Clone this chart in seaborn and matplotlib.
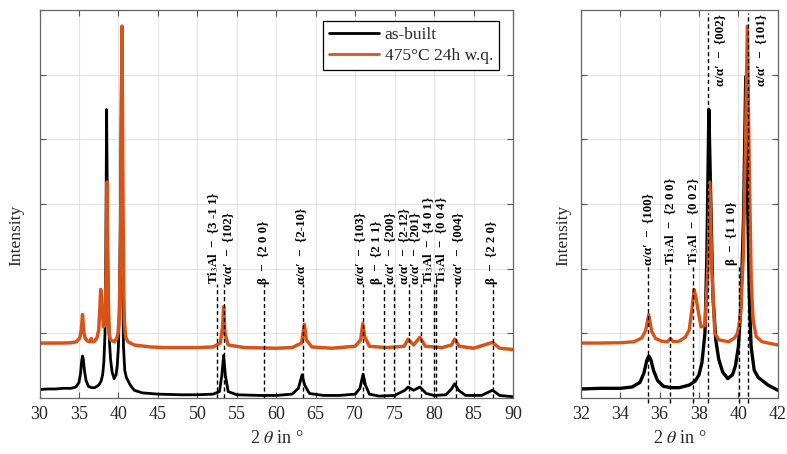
import matplotlib
matplotlib.use("Agg")
import matplotlib.pyplot as plt
import pandas as pd
import seaborn as sns

# ---------------- data ----------------
series_names = ["as-built", "475°C 24h w.q."]
series_colors = ["#000000", "#D95319"]

black_x = [30, 31, 32, 33, 34, 34.6, 35.0, 35.2, 35.35, 35.45, 35.55, 35.7, 35.9, 36.2, 36.6,
           37.0, 37.5, 37.8, 38.0, 38.15, 38.3, 38.4, 38.5, 38.6, 38.7, 38.85, 39.0, 39.2,
           39.46, 39.7, 39.85, 40.0, 40.12, 40.26, 40.37, 40.46, 40.55, 40.64, 40.8, 41.0, 41.5, 42.0,
           43, 45, 48, 50, 52, 52.8, 53.1, 53.33, 53.55, 53.9, 55, 58, 60, 62, 62.8, 63.27,
           63.6, 64.2, 66, 68, 70, 70.6, 71.0, 71.3, 71.8, 73, 75, 76.3, 76.7, 77.4, 78.2, 79,
           80, 81.5, 82.2, 82.6, 83.1, 84, 86, 87.4, 88.3, 90]
black_y = [0.13, 0.14, 0.14, 0.15, 0.15, 0.17, 0.24, 0.38, 0.58, 0.65, 0.60, 0.42, 0.27, 0.18, 0.16,
           0.16, 0.20, 0.26, 0.36, 0.55, 1.00, 2.20, 4.46, 3.00, 1.60, 0.90, 0.60, 0.40,
           0.30, 0.36, 0.50, 0.80, 1.40, 2.80, 4.97, 3.20, 1.60, 0.80, 0.43, 0.32, 0.20, 0.12,
           0.08, 0.06, 0.05, 0.05, 0.06, 0.10, 0.35, 0.66, 0.35, 0.10, 0.05, 0.04, 0.04, 0.06, 0.15, 0.36,
           0.20, 0.07, 0.04, 0.04, 0.06, 0.15, 0.37, 0.20, 0.06, 0.03, 0.04, 0.12, 0.17, 0.12, 0.17, 0.07,
           0.04, 0.05, 0.14, 0.22, 0.12, 0.04, 0.04, 0.12, 0.04, 0.02]

orange_x = [30, 31, 32, 33, 34, 34.7, 35.1, 35.3, 35.45, 35.6, 35.8, 36.1, 36.4, 36.55, 36.7,
            37.0, 37.3, 37.5, 37.65, 37.75, 37.85, 37.95, 38.1, 38.3, 38.45, 38.55, 38.65, 38.8,
            39.0, 39.5, 39.8, 39.95, 40.1, 40.25, 40.35, 40.45, 40.55, 40.65, 40.75, 40.9, 41.2,
            42, 44, 46, 50, 52, 52.9, 53.2, 53.33, 53.5, 53.9, 56, 60, 62, 63.2, 63.56, 63.8,
            64.5, 67, 70, 70.7, 70.96, 71.2, 71.8, 74, 76.2, 76.7, 77.4, 78.2, 78.9, 81, 82.2,
            82.6, 83.2, 85, 87.4, 88.3, 90]
orange_y = [0.85, 0.85, 0.85, 0.85, 0.855, 0.87, 0.93, 1.05, 1.29, 1.03, 0.92, 0.88, 0.87, 0.92, 0.87,
            0.88, 0.94, 1.05, 1.40, 1.68, 1.55, 1.36, 1.10, 1.12, 2.00, 3.34, 2.00, 1.00,
            0.90, 0.87, 0.93, 1.00, 1.26, 2.20, 3.80, 5.75, 3.60, 1.80, 1.20, 0.95, 0.87,
            0.82, 0.79, 0.78, 0.78, 0.79, 0.85, 1.10, 1.41, 1.00, 0.82, 0.78, 0.77, 0.78, 0.85, 1.14, 0.90,
            0.79, 0.77, 0.80, 0.90, 1.15, 0.95, 0.80, 0.78, 0.80, 0.91, 0.82, 0.94, 0.80, 0.78, 0.82,
            0.91, 0.80, 0.77, 0.86, 0.77, 0.75]

# reflections, overview plot
left_line_x = [52.49, 53.33, 58.49, 63.35, 70.96, 73.59, 74.9, 76.76, 78.29, 79.94, 80.28, 82.77, 87.42]
left_text_x = [52.06, 53.92, 58.49, 63.10, 70.67, 72.79, 74.48, 76.15, 77.6, 79.25, 80.95, 83.02, 87.39]
left_labels = ["Ti$_3$Al  −  {3 -1 1}", "α/α′  −  {102}", "β  −  {2 0 0}", "α/α′  −  {2-10}",
               "α/α′  −  {103}", "β  −  {2 1 1}", "α/α′  −  {200}", "α/α′  −  {2-12}", "α/α′  −  {201}",
               "Ti$_3$Al  −  {4 0 1}", "Ti$_3$Al  −  {0 0 4}", "α/α′  −  {004}", "β  −  {2 2 0}"]

# reflections, detail plot
right_low_line_x = [35.42, 36.53, 37.71, 40.02]
right_low_text_x = [35.42, 36.55, 37.73, 39.66]
right_low_labels = ["α/α′  −  {100}", "Ti$_3$Al  −  {2 0 0}", "Ti$_3$Al  −  {0 0 2}", "β  −  {1 1 0}"]
right_top_line_x = [38.46, 40.50]
right_top_text_x = [39.08, 41.17]
right_top_labels = ["α/α′  −  {002}", "α/α′  −  {101}"]

left_xticks = [30, 35, 40, 45, 50, 55, 60, 65, 70, 75, 80, 85, 90]
right_xticks = [32, 34, 36, 38, 40, 42]

# ---------------- figure ----------------
sns.set_theme(style="white")
plt.rcParams["font.family"] = ["Liberation Serif", "DejaVu Serif"]
plt.rcParams["mathtext.fontset"] = "stix"

df = pd.concat([
    pd.DataFrame({"two_theta": black_x, "intensity": black_y, "sample": series_names[0]}),
    pd.DataFrame({"two_theta": orange_x, "intensity": orange_y, "sample": series_names[1]}),
], ignore_index=True)
palette = dict(zip(series_names, series_colors))

fig = plt.figure(figsize=(7.87, 4.54), dpi=100)
axL = fig.add_axes([0.0502, 0.1233, 0.6017, 0.8546])
axR = fig.add_axes([0.7379, 0.1233, 0.2505, 0.8546])

label_kw = dict(rotation=90, fontsize=9.3, fontweight="bold", color="black")
dash = (0, (3, 2))

for ax, lw, lw_or, xlim, xticks, ylab_x in [(axL, 2.0, 2.5, (30, 90), left_xticks, -0.031),
                                            (axR, 2.4, 2.4, (32, 42), right_xticks, -0.049)]:
    sns.lineplot(data=df, x="two_theta", y="intensity", hue="sample", palette=palette,
                 estimator=None, sort=False, linewidth=lw, ax=ax, legend=(ax is axL))
    ax.lines[1].set_linewidth(lw_or)
    ax.set_xlim(*xlim)
    ax.set_ylim(0, 6)
    ax.set_xticks(xticks)
    ax.set_xticklabels([str(t) for t in xticks])
    ax.set_yticks([1, 2, 3, 4, 5])
    ax.set_yticklabels([])
    ax.grid(True, color="#e3e3e3", linewidth=0.8)
    ax.set_axisbelow(True)
    ax.tick_params(axis="both", direction="in", length=4, width=0.8, color="#555555",
                   top=True, right=True, bottom=True, left=True, labelsize=13, pad=6)
    for s in ax.spines.values():
        s.set_color("#666666")
        s.set_linewidth(0.9)
    ax.set_xlabel("2 $\\theta$ in °", fontsize=13, labelpad=5)
    ax.set_ylabel("Intensity", fontsize=12.5)
    ax.yaxis.set_label_coords(ylab_x, 0.42)

# annotations, overview
y_lab = 1.76
for lx, tx, lab in zip(left_line_x, left_text_x, left_labels):
    axL.plot([lx, lx], [0, y_lab], color="black", lw=1.0, ls=dash, zorder=3)
    axL.text(tx, y_lab, lab, ha="center", va="bottom", **label_kw)

# annotations, detail
y_lab_r = 2.05
for lx, tx, lab in zip(right_low_line_x, right_low_text_x, right_low_labels):
    axR.plot([lx, lx], [-0.08, y_lab_r], color="black", lw=1.0, ls=dash, zorder=3, clip_on=False)
    axR.text(tx, y_lab_r, lab, ha="center", va="bottom", **label_kw)
for lx, tx, lab in zip(right_top_line_x, right_top_text_x, right_top_labels):
    axR.plot([lx, lx], [-0.08, 5.95], color="black", lw=1.0, ls=dash, zorder=3, clip_on=False)
    axR.text(tx, 5.93, lab, ha="center", va="top", **label_kw)

leg = axL.legend(loc="upper right", bbox_to_anchor=(0.970, 0.972), borderaxespad=0,
                 fontsize=12.5, frameon=True, fancybox=False, edgecolor="black",
                 handlelength=2.9, handletextpad=0.3, borderpad=0.35, labelspacing=0.25)
leg.get_frame().set_linewidth(0.9)
leg.get_frame().set_alpha(1)
for h in leg.get_lines():
    h.set_linewidth(2)

fig.savefig("out.png", dpi=100)
